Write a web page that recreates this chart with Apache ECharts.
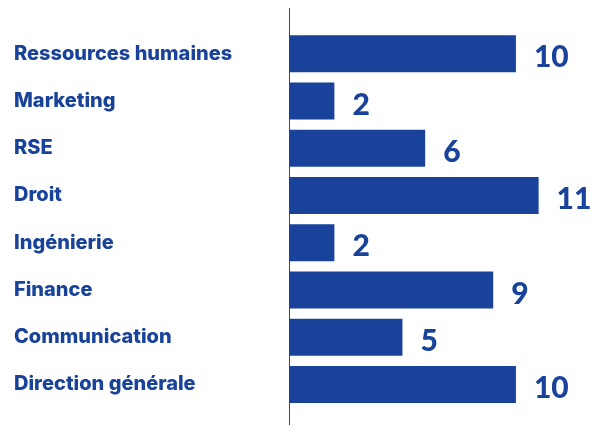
<!DOCTYPE html>
<html><head><meta charset="utf-8">
<script src="https://cdn.jsdelivr.net/npm/echarts@6/dist/echarts.min.js"></script>
<style>html,body{margin:0;padding:0;background:#fff}#c{width:591px;height:425px}</style>
</head><body><div id="c"></div>
<script>
const categories = ["Ressources humaines","Marketing","RSE","Droit","Ingénierie","Finance","Communication","Direction générale"];
const values = [10,2,6,11,2,9,5,10];
const color = '#19439a';
const chart = echarts.init(document.getElementById('c'), null, {renderer:'canvas'});
chart.setOption({
  animation:false,
  grid:{left:289, top:30, width:295, height:378},
  xAxis:{type:'value', min:0, max:13, show:false},
  yAxis:{type:'category', data:categories, inverse:true,
    axisLine:{show:false}, axisTick:{show:false},
    axisLabel:{align:'left', margin:275, padding:[3,0,0,0], color:color, fontFamily:'Inter', fontWeight:800, fontSize:20}},
  graphic:[{type:'line', shape:{x1:289.5,y1:8,x2:289.5,y2:425}, style:{stroke:'#2a4a8a', lineWidth:1}}],
  series:[{type:'bar', data:values, barWidth:37, itemStyle:{color:color},
    label:{show:true, position:'right', distance:18, offset:[0,4], color:color, fontFamily:'Lato', fontWeight:900, fontSize:30}}]
});
</script></body></html>
